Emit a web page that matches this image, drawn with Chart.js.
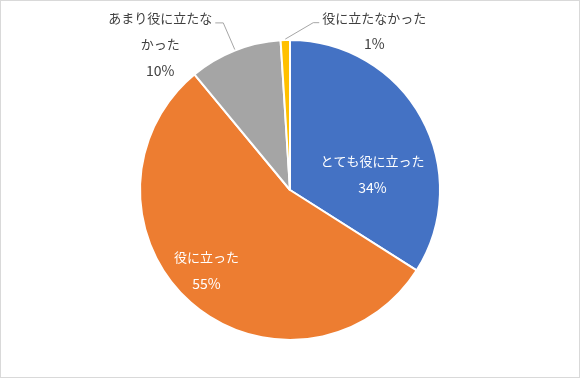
<!DOCTYPE html>
<html>
<head>
<meta charset="utf-8">
<script src="https://cdn.jsdelivr.net/npm/chart.js@4/dist/chart.umd.min.js"></script>
<style>
  html, body { margin: 0; padding: 0; background: #fff; }
  canvas { display: block; }
</style>
</head>
<body>
<canvas id="pieChart" width="580" height="379"></canvas>
<script>
// Survey answers (clockwise from 12 o'clock)
const categories = ['とても役に立った', '役に立った', 'あまり役に立たなかった', '役に立たなかった'];
const values = [34, 55, 10, 1];
const sliceColors = ['#4472C4', '#ED7D31', '#A5A5A5', '#FFC000'];
// how each label is broken onto lines in the picture
const labelLines = [['とても役に立った'], ['役に立った'], ['あまり役に立たな', 'かった'], ['役に立たなかった']];

// label anchor: angle (deg, clockwise from top) and distance as a fraction of the radius
const labelSpots = [
  { deg: 79, r: 0.56, inside: true },
  { deg: 226, r: 0.775, inside: true },
  { deg: 318.3, r: 1.30, inside: false, side: 'right' },
  { deg: 27.9, r: 1.20, inside: false, side: 'left' }
];

const frameAndBackground = {
  id: 'frameAndBackground',
  beforeDraw(chart) {
    const ctx = chart.ctx;
    ctx.save();
    ctx.fillStyle = '#ffffff';
    ctx.fillRect(0, 0, chart.width, chart.height);
    ctx.strokeStyle = '#d9d9d9';
    ctx.lineWidth = 1;
    ctx.strokeRect(0.5, 0.5, chart.width - 1, chart.height - 2);
    ctx.restore();
  }
};

const sliceLabels = {
  id: 'sliceLabels',
  afterDatasetsDraw(chart) {
    const ctx = chart.ctx;
    const meta = chart.getDatasetMeta(0);
    const total = values.reduce((a, b) => a + b, 0);
    const lineH = 26.5;
    const textFont = '13px "Noto Sans CJK JP", "Noto Sans", sans-serif';
    const pctFont = '14px "Noto Sans CJK JP", "Noto Sans", sans-serif';
    ctx.save();
    ctx.textAlign = 'center';
    ctx.textBaseline = 'middle';

    meta.data.forEach((arc, i) => {
      const spot = labelSpots[i];
      const R = arc.outerRadius;
      const a = spot.deg * Math.PI / 180;
      const cx = arc.x + Math.sin(a) * R * spot.r;
      const cy = arc.y - Math.cos(a) * R * spot.r;
      const lines = labelLines[i].concat([Math.round(values[i] / total * 100) + '%']);
      const top = cy - (lines.length - 1) * lineH / 2;

      ctx.fillStyle = spot.inside ? '#ffffff' : '#404040';
      lines.forEach((t, k) => {
        ctx.font = k === lines.length - 1 ? pctFont : textFont;
        ctx.fillText(t, cx, top + k * lineH);
      });

      if (!spot.inside) {
        // leader line from the first text line to the slice edge
        ctx.font = textFont;
        const w = ctx.measureText(lines[0]).width;
        const mid = (arc.startAngle + arc.endAngle) / 2;
        const ex = arc.x + Math.cos(mid) * R;
        const ey = arc.y + Math.sin(mid) * R;
        const ly = top + 5;
        const sx = spot.side === 'right' ? cx + w / 2 + 3 : cx - w / 2 - 3;
        const kx = spot.side === 'right' ? sx + 8 : sx - 6;
        ctx.strokeStyle = '#a6a6a6';
        ctx.lineWidth = 1;
        ctx.beginPath();
        ctx.moveTo(sx, ly);
        ctx.lineTo(kx, ly);
        ctx.lineTo(ex, ey - 1);
        ctx.stroke();
      }
    });
    ctx.restore();
  }
};

const ctx = document.getElementById('pieChart').getContext('2d');
new Chart(ctx, {
  type: 'pie',
  data: {
    labels: categories,
    datasets: [{
      data: values,
      backgroundColor: sliceColors,
      borderColor: '#ffffff',
      borderWidth: 2,
      hoverOffset: 0
    }]
  },
  options: {
    responsive: false,
    animation: false,
    layout: {
      padding: { left: 139, right: 139, top: 39, bottom: 38 }
    },
    plugins: {
      legend: { display: false },
      tooltip: { enabled: false }
    }
  },
  plugins: [frameAndBackground, sliceLabels]
});
</script>
</body>
</html>
